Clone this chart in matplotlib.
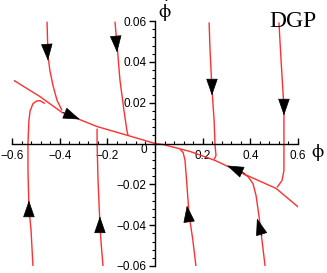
import numpy as np
import matplotlib
matplotlib.use("Agg")
import matplotlib.pyplot as plt
from matplotlib.ticker import MultipleLocator

plt.rcParams['mathtext.fontset'] = 'stix'

# separatrix (attractor line through the origin)
sep_x = [-0.592, -0.483, -0.39, -0.243, -0.113, 0.0, 0.034, 0.147, 0.252, 0.378, 0.508, 0.603]
sep_y = [0.0309, 0.0230, 0.0152, 0.0083, 0.0039, 0.0, -0.0005, -0.0039, -0.0083, -0.0152, -0.0220, -0.0313]

# trajectories coming in from the top
t1_x = [-0.453, -0.449, -0.441, -0.428, -0.411, -0.39]
t1_y = [0.0597, 0.0431, 0.0357, 0.0284, 0.0211, 0.0162]
t2_x = [-0.168, -0.159, -0.147, -0.130, -0.118, -0.113]
t2_y = [0.0597, 0.0480, 0.0310, 0.0160, 0.0064, 0.0039]
t3_x = [0.227, 0.231, 0.239, 0.248, 0.252, 0.256, 0.248]
t3_y = [0.0593, 0.0455, 0.0269, 0.0113, -0.0010, -0.0059, -0.0078]
t4_x = [0.520, 0.529, 0.541, 0.541, 0.541, 0.533, 0.512]
t4_y = [0.0593, 0.0406, 0.0176, -0.0034, -0.0132, -0.0181, -0.0215]

# trajectories coming in from the bottom
b1_x = [-0.512, -0.520, -0.529, -0.533, -0.533, -0.529, -0.524, -0.512, -0.497, -0.483, -0.462]
b1_y = [-0.0602, -0.0426, -0.0318, -0.0132, 0.0, 0.0113, 0.0160, 0.0195, 0.0208, 0.0210, 0.0196]
b2_x = [-0.218, -0.227, -0.231, -0.239, -0.243, -0.243]
b2_y = [-0.0602, -0.0475, -0.0397, -0.0181, 0.0, 0.0073]
b3_x = [0.172, 0.159, 0.143, 0.134, 0.126, 0.118, 0.105]
b3_y = [-0.0602, -0.0475, -0.0348, -0.0206, -0.0083, -0.0044, -0.0029]
b4_x = [0.462, 0.449, 0.436, 0.424, 0.411, 0.390, 0.369]
b4_y = [-0.0602, -0.0475, -0.0353, -0.0255, -0.0196, -0.0162, -0.0147]

curves = [(sep_x, sep_y), (t1_x, t1_y), (t2_x, t2_y), (t3_x, t3_y), (t4_x, t4_y),
          (b1_x, b1_y), (b2_x, b2_y), (b3_x, b3_y), (b4_x, b4_y)]

# arrow heads: (tail x, tail y, tip x, tip y)
arrows = [(-0.453, 0.0470, -0.449, 0.0406),
          (-0.164, 0.0514, -0.159, 0.0446),
          (-0.386, 0.0152, -0.315, 0.0118),
          (0.239, 0.0309, 0.239, 0.0235),
          (0.541, 0.0211, 0.541, 0.0137),
          (0.378, -0.0147, 0.302, -0.0108),
          (-0.529, -0.0357, -0.529, -0.0279),
          (-0.231, -0.0436, -0.231, -0.0357),
          (0.143, -0.0382, 0.134, -0.0304),
          (0.449, -0.0451, 0.428, -0.0367)]

x_ticks = [-0.6, -0.4, -0.2, 0.2, 0.4, 0.6]
x_labels = ['\u22120.6', '\u22120.4', '\u22120.2', '0.2', '0.4', '0.6']
y_ticks = [-0.06, -0.04, -0.02, 0.02, 0.04, 0.06]
y_labels = ['\u22120.06', '\u22120.04', '\u22120.02', '0.02', '0.04', '0.06']

fig = plt.figure(figsize=(3.27, 2.73), dpi=100)
ax = fig.add_axes([12/327, 7/273, 286/327, 245/273])

for cx, cy in curves:
    ax.plot(cx, cy, color='#ff3030', lw=1.0, solid_capstyle='butt')

for x0, y0, x1, y1 in arrows:
    ax.annotate('', xy=(x1, y1), xytext=(x0, y0),
                arrowprops=dict(arrowstyle='-|>,head_length=1.1,head_width=0.38',
                                color='black', lw=0.5, shrinkA=0, shrinkB=0,
                                mutation_scale=10))

ax.set_xlim(-0.6, 0.6)
ax.set_ylim(-0.06, 0.06)

ax.spines['left'].set_position(('data', 0))
ax.spines['bottom'].set_position(('data', 0))
ax.spines['top'].set_visible(False)
ax.spines['right'].set_visible(False)
for s in ('left', 'bottom'):
    ax.spines[s].set_linewidth(1.0)

ax.set_xticks(x_ticks)
ax.set_xticklabels(x_labels)
ax.set_yticks(y_ticks)
ax.set_yticklabels(y_labels)
ax.xaxis.set_minor_locator(MultipleLocator(0.04))
ax.yaxis.set_minor_locator(MultipleLocator(0.004))

ax.tick_params(axis='x', which='major', direction='in', length=4, width=1, pad=5,
               labelsize=8.5)
ax.tick_params(axis='x', which='minor', direction='in', length=2.5, width=0.8)
ax.tick_params(axis='y', which='major', direction='out', length=4, width=1, pad=2,
               labelsize=8.5)
ax.tick_params(axis='y', which='minor', direction='out', length=2.5, width=0.8)
for lab in ax.get_xticklabels() + ax.get_yticklabels():
    lab.set_family('Liberation Sans')

ax.text(-0.046, -0.0034, '0', ha='center', va='center', fontsize=8.5,
        family='Liberation Sans')
ax.text(0.042, 0.0645, r'$\dot{\mathrm{\phi}}$', ha='center', va='center', fontsize=14)
ax.text(0.684, -0.0044, r'$\mathrm{\phi}$', ha='center', va='center', fontsize=14)
ax.text(0.579, 0.0597, 'DGP', ha='center', va='center', fontsize=17,
        family='Liberation Serif')

fig.savefig('out.png', dpi=100)
